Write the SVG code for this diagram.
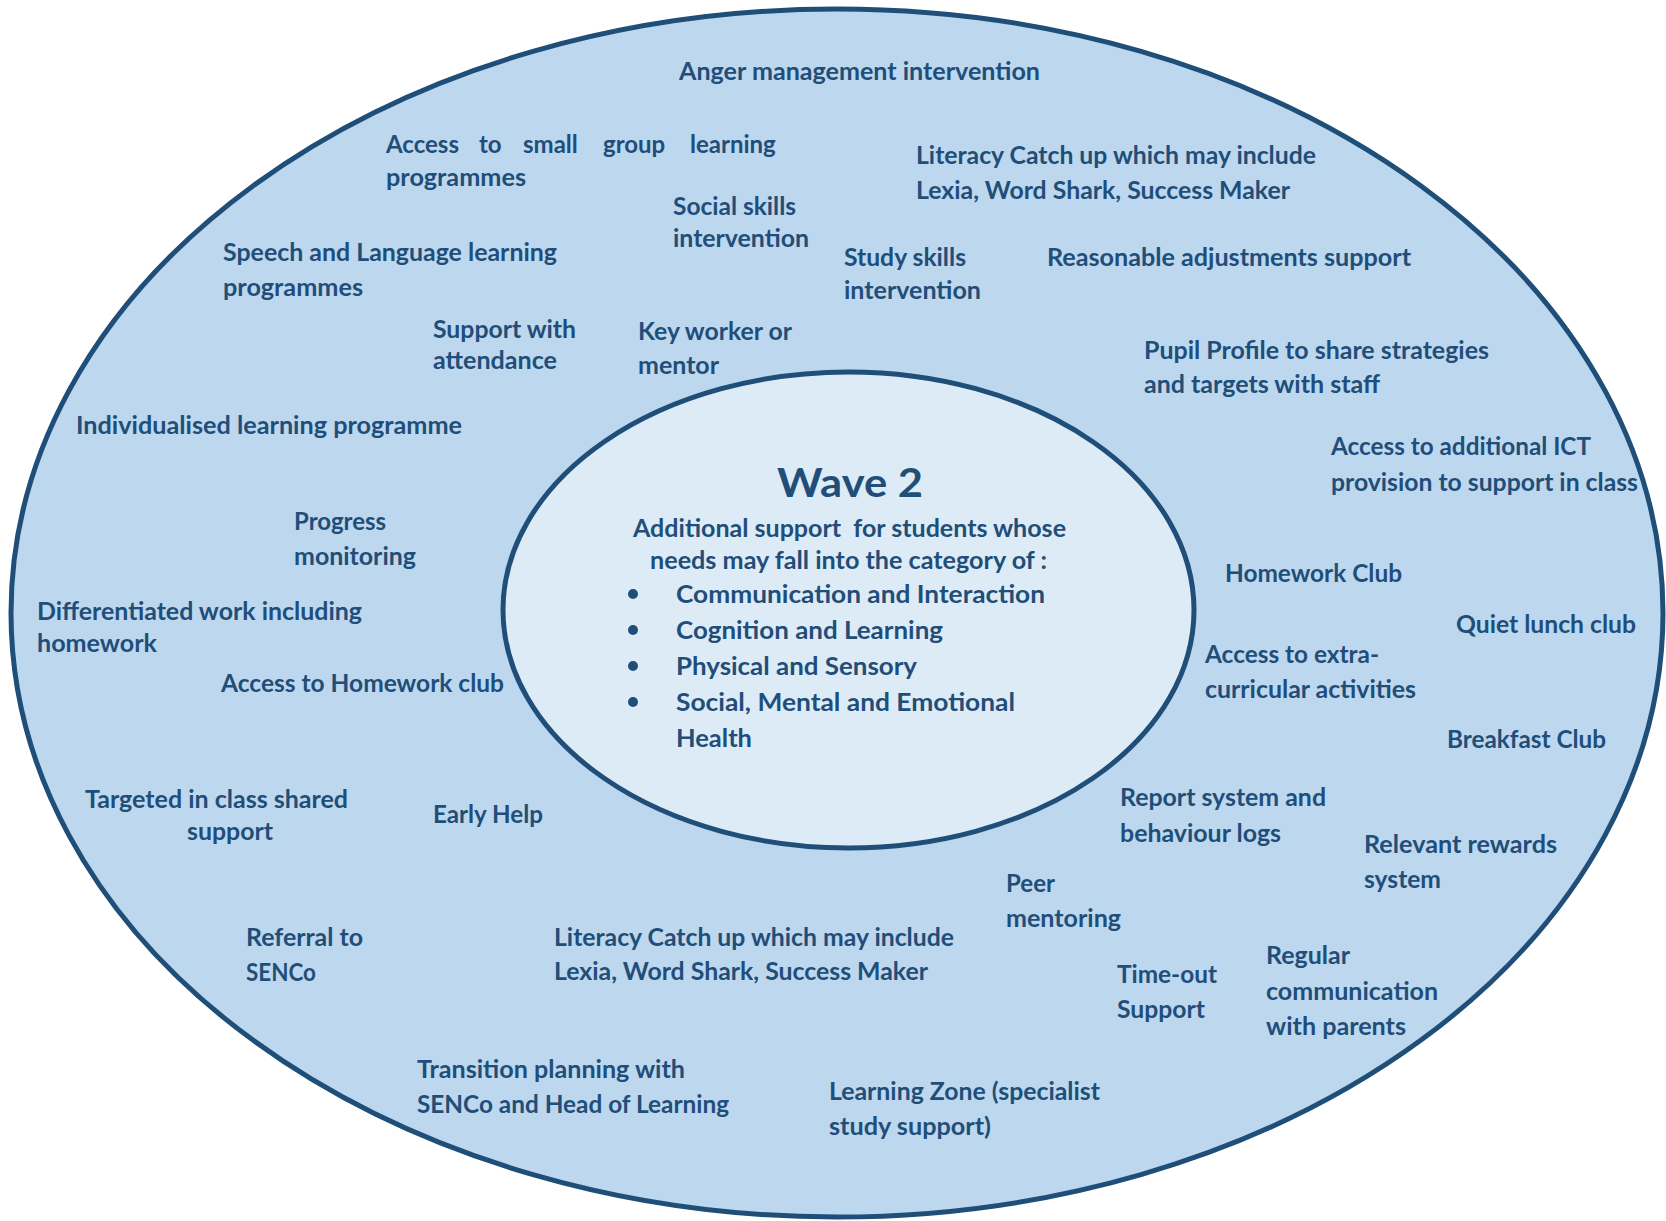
<svg xmlns="http://www.w3.org/2000/svg" width="1666" height="1221" viewBox="0 0 1666 1221">
<style>
.t{font-family:Lato,"Open Sans","Liberation Sans",sans-serif;font-weight:700;font-size:24px;fill:#1f4e79}
.c{font-size:25px}
.h{font-size:40px}
.pre{white-space:pre}
.ring{stroke:#1f4e79;stroke-width:5}
</style>
<rect width="1666" height="1221" fill="#ffffff"/>
<g id="outer-ellipse"><ellipse class="ring" cx="837" cy="613" rx="826" ry="604" fill="#bdd7ee"/></g>
<g id="inner-ellipse"><ellipse class="ring" cx="848.5" cy="610" rx="345.5" ry="238" fill="#ddebf7"/></g>
<g id="connectors"></g>
<g id="wave2" class="t">
  <text class="t h" x="777" y="497" textLength="146" lengthAdjust="spacingAndGlyphs">Wave 2</text>
  <text class="t c pre" x="633" y="537" textLength="433" lengthAdjust="spacingAndGlyphs">Additional support  for students whose</text>
  <text class="t c" x="650" y="569" textLength="397" lengthAdjust="spacingAndGlyphs">needs may fall into the category of :</text>
  <circle cx="633" cy="594" r="5" fill="#1f4e79"/>
  <circle cx="633" cy="630" r="5" fill="#1f4e79"/>
  <circle cx="633" cy="666" r="5" fill="#1f4e79"/>
  <circle cx="633" cy="702" r="5" fill="#1f4e79"/>
  <text class="t c" x="676" y="603" textLength="369" lengthAdjust="spacingAndGlyphs">Communication and Interaction</text>
  <text class="t c" x="676" y="639" textLength="267" lengthAdjust="spacingAndGlyphs">Cognition and Learning</text>
  <text class="t c" x="676" y="675" textLength="241" lengthAdjust="spacingAndGlyphs">Physical and Sensory</text>
  <text class="t c" x="676" y="711" textLength="339" lengthAdjust="spacingAndGlyphs">Social, Mental and Emotional</text>
  <text class="t c" x="676" y="747" textLength="76" lengthAdjust="spacingAndGlyphs">Health</text>
</g>
<g id="anger"><text class="t" x="679" y="80" textLength="361" lengthAdjust="spacingAndGlyphs">Anger management intervention</text></g>
<g id="small-group">
  <text class="t" y="153"><tspan x="386">Access</tspan><tspan x="479">to</tspan><tspan x="523">small</tspan><tspan x="603">group</tspan><tspan x="690">learning</tspan></text>
  <text class="t" x="386" y="186" textLength="140" lengthAdjust="spacingAndGlyphs">programmes</text>
</g>
<g id="literacy-top">
  <text class="t" x="916" y="164" textLength="400" lengthAdjust="spacingAndGlyphs">Literacy Catch up which may include</text>
  <text class="t" x="916" y="199" textLength="374" lengthAdjust="spacingAndGlyphs">Lexia, Word Shark, Success Maker</text>
</g>
<g id="social-skills">
  <text class="t" x="673" y="215" textLength="123" lengthAdjust="spacingAndGlyphs">Social skills</text>
  <text class="t" x="673" y="247" textLength="136" lengthAdjust="spacingAndGlyphs">intervention</text>
</g>
<g id="speech">
  <text class="t" x="223" y="261" textLength="334" lengthAdjust="spacingAndGlyphs">Speech and Language learning</text>
  <text class="t" x="223" y="296" textLength="140" lengthAdjust="spacingAndGlyphs">programmes</text>
</g>
<g id="study-skills">
  <text class="t" x="844" y="266" textLength="122" lengthAdjust="spacingAndGlyphs">Study skills</text>
  <text class="t" x="844" y="299" textLength="137" lengthAdjust="spacingAndGlyphs">intervention</text>
</g>
<g id="reasonable"><text class="t" x="1047" y="266" textLength="364" lengthAdjust="spacingAndGlyphs">Reasonable adjustments support</text></g>
<g id="attendance">
  <text class="t" x="433" y="338" textLength="143" lengthAdjust="spacingAndGlyphs">Support with</text>
  <text class="t" x="433" y="369" textLength="124" lengthAdjust="spacingAndGlyphs">attendance</text>
</g>
<g id="key-worker">
  <text class="t" x="638" y="340" textLength="154" lengthAdjust="spacingAndGlyphs">Key worker or</text>
  <text class="t" x="638" y="374" textLength="81" lengthAdjust="spacingAndGlyphs">mentor</text>
</g>
<g id="pupil-profile">
  <text class="t" x="1144" y="359" textLength="345" lengthAdjust="spacingAndGlyphs">Pupil Profile to share strategies</text>
  <text class="t" x="1144" y="393" textLength="236" lengthAdjust="spacingAndGlyphs">and targets with staff</text>
</g>
<g id="individualised"><text class="t" x="76" y="434" textLength="386" lengthAdjust="spacingAndGlyphs">Individualised learning programme</text></g>
<g id="ict">
  <text class="t" x="1331" y="455" textLength="260" lengthAdjust="spacingAndGlyphs">Access to additional ICT</text>
  <text class="t" x="1331" y="491" textLength="307" lengthAdjust="spacingAndGlyphs">provision to support in class</text>
</g>
<g id="progress">
  <text class="t" x="294" y="530" textLength="92" lengthAdjust="spacingAndGlyphs">Progress</text>
  <text class="t" x="294" y="565" textLength="122" lengthAdjust="spacingAndGlyphs">monitoring</text>
</g>
<g id="homework-club"><text class="t" x="1225" y="582" textLength="177" lengthAdjust="spacingAndGlyphs">Homework Club</text></g>
<g id="differentiated">
  <text class="t" x="37" y="620" textLength="325" lengthAdjust="spacingAndGlyphs">Differentiated work including</text>
  <text class="t" x="37" y="652" textLength="120" lengthAdjust="spacingAndGlyphs">homework</text>
</g>
<g id="quiet-lunch"><text class="t" x="1456" y="633" textLength="180" lengthAdjust="spacingAndGlyphs">Quiet lunch club</text></g>
<g id="access-homework"><text class="t" x="221" y="692" textLength="283" lengthAdjust="spacingAndGlyphs">Access to Homework club</text></g>
<g id="extra-curricular">
  <text class="t" x="1205" y="663" textLength="174" lengthAdjust="spacingAndGlyphs">Access to extra-</text>
  <text class="t" x="1205" y="698" textLength="211" lengthAdjust="spacingAndGlyphs">curricular activities</text>
</g>
<g id="breakfast"><text class="t" x="1447" y="748" textLength="159" lengthAdjust="spacingAndGlyphs">Breakfast Club</text></g>
<g id="targeted">
  <text class="t" x="85" y="808" textLength="263" lengthAdjust="spacingAndGlyphs">Targeted in class shared</text>
  <text class="t" x="187" y="840" textLength="86" lengthAdjust="spacingAndGlyphs">support</text>
</g>
<g id="early-help"><text class="t" x="433" y="823" textLength="110" lengthAdjust="spacingAndGlyphs">Early Help</text></g>
<g id="report">
  <text class="t" x="1120" y="806" textLength="206" lengthAdjust="spacingAndGlyphs">Report system and</text>
  <text class="t" x="1120" y="842" textLength="161" lengthAdjust="spacingAndGlyphs">behaviour logs</text>
</g>
<g id="rewards">
  <text class="t" x="1364" y="853" textLength="193" lengthAdjust="spacingAndGlyphs">Relevant rewards</text>
  <text class="t" x="1364" y="888" textLength="77" lengthAdjust="spacingAndGlyphs">system</text>
</g>
<g id="peer">
  <text class="t" x="1006" y="892" textLength="49" lengthAdjust="spacingAndGlyphs">Peer</text>
  <text class="t" x="1006" y="927" textLength="115" lengthAdjust="spacingAndGlyphs">mentoring</text>
</g>
<g id="referral">
  <text class="t" x="246" y="946" textLength="117" lengthAdjust="spacingAndGlyphs">Referral to</text>
  <text class="t" x="246" y="981" textLength="70" lengthAdjust="spacingAndGlyphs">SENCo</text>
</g>
<g id="literacy-bottom">
  <text class="t" x="554" y="946" textLength="400" lengthAdjust="spacingAndGlyphs">Literacy Catch up which may include</text>
  <text class="t" x="554" y="980" textLength="374" lengthAdjust="spacingAndGlyphs">Lexia, Word Shark, Success Maker</text>
</g>
<g id="time-out">
  <text class="t" x="1117" y="983" textLength="100" lengthAdjust="spacingAndGlyphs">Time-out</text>
  <text class="t" x="1117" y="1018" textLength="88" lengthAdjust="spacingAndGlyphs">Support</text>
</g>
<g id="regular">
  <text class="t" x="1266" y="964" textLength="84" lengthAdjust="spacingAndGlyphs">Regular</text>
  <text class="t" x="1266" y="1000" textLength="172" lengthAdjust="spacingAndGlyphs">communication</text>
  <text class="t" x="1266" y="1035" textLength="140" lengthAdjust="spacingAndGlyphs">with parents</text>
</g>
<g id="transition">
  <text class="t" x="417" y="1078" textLength="268" lengthAdjust="spacingAndGlyphs">Transition planning with</text>
  <text class="t" x="417" y="1113" textLength="312" lengthAdjust="spacingAndGlyphs">SENCo and Head of Learning</text>
</g>
<g id="learning-zone">
  <text class="t" x="829" y="1100" textLength="271" lengthAdjust="spacingAndGlyphs">Learning Zone (specialist</text>
  <text class="t" x="829" y="1135" textLength="162" lengthAdjust="spacingAndGlyphs">study support)</text>
</g>
</svg>
